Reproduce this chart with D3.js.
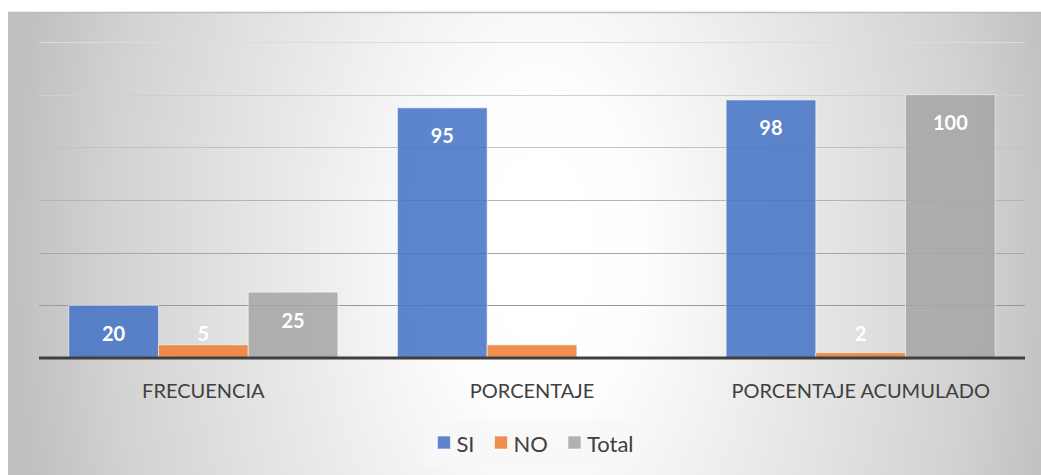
<!DOCTYPE html>
<html>
<head>
<meta charset="utf-8">
<script src="https://cdn.jsdelivr.net/npm/d3@7/dist/d3.min.js"></script>
<style>
  html, body { margin: 0; padding: 0; background: #ffffff; }
  svg { display: block; }
  text { font-family: "Lato", "Open Sans", sans-serif; }
</style>
</head>
<body>
<svg id="chart" width="1041" height="475"></svg>
<script>
const categories = ["FRECUENCIA", "PORCENTAJE", "PORCENTAJE ACUMULADO"];
const seriesNames = ["SI", "NO", "Total"];
const siValues = [20, 95, 98];
const noValues = [5, 5, 2];
const totalValues = [25, null, 100];
const yTicks = [0, 20, 40, 60, 80, 100, 120];

const colors = { "SI": "#4472C4", "NO": "#ED7D31", "Total": "#A5A5A5" };
const seriesValues = { "SI": siValues, "NO": noValues, "Total": totalValues };

const W = 1041, H = 475;
const plot = { left: 39, right: 1025, top: 42, bottom: 358 };

const svg = d3.select("#chart");
const defs = svg.append("defs");

// Background radial gradient
const grad = defs.append("radialGradient")
  .attr("id", "bg")
  .attr("gradientUnits", "userSpaceOnUse")
  .attr("cx", 0).attr("cy", 0).attr("r", 1)
  .attr("gradientTransform", "translate(540,250) scale(525,900)");
[[0, "#ffffff"], [0.18, "#fefefe"], [0.5, "#e8e8e8"], [0.82, "#d2d2d2"], [1, "#c0c0c0"]]
  .forEach(([o, c]) => grad.append("stop").attr("offset", o).attr("stop-color", c));

svg.append("rect").attr("x", 8).attr("y", 12).attr("width", W - 8).attr("height", H - 12)
  .attr("fill", "url(#bg)");
svg.append("line").attr("x1", 8).attr("x2", W).attr("y1", 12.5).attr("y2", 12.5)
  .attr("stroke", "#bdbdbd").attr("stroke-width", 1.5);

const y = d3.scaleLinear().domain([0, 120]).range([plot.bottom, plot.top]);
const x0 = d3.scaleBand().domain(categories).range([plot.left, plot.right]).paddingInner(0).paddingOuter(0);
const x1 = d3.scaleBand().domain(seriesNames).range([0, x0.bandwidth()]).paddingInner(0).paddingOuter(0.332);

// Gridlines
const gridColor = d3.scaleLinear().domain([20, 120]).range(["#9a9a9a", "#dcdcdc"]);
svg.append("g").selectAll("line").data(yTicks.filter(t => t > 0)).join("line")
  .attr("x1", plot.left).attr("x2", plot.right)
  .attr("y1", d => Math.round(y(d)) + 0.5).attr("y2", d => Math.round(y(d)) + 0.5)
  .attr("stroke", d => gridColor(d)).attr("stroke-width", 1);

// Bars
const rows = [];
categories.forEach((c, i) => seriesNames.forEach(s => {
  const v = seriesValues[s][i];
  if (v !== null && v !== undefined) rows.push({ cat: c, series: s, value: v });
}));

svg.append("g").selectAll("rect").data(rows).join("rect")
  .attr("x", d => x0(d.cat) + x1(d.series))
  .attr("y", d => y(d.value))
  .attr("width", x1.bandwidth())
  .attr("height", d => y(0) - y(d.value))
  .attr("fill", d => colors[d.series])
  .attr("fill-opacity", 0.86)
  .attr("stroke", "rgba(255,255,255,0.55)")
  .attr("stroke-width", 1);

// Data labels
svg.append("g").selectAll("text").data(rows).join("text")
  .attr("x", d => x0(d.cat) + x1(d.series) + x1.bandwidth() / 2)
  .attr("y", d => Math.min(y(d.value) + 27.5, y(0) - 25))
  .attr("text-anchor", "middle")
  .attr("dominant-baseline", "central")
  .attr("fill", "#ffffff")
  .attr("font-weight", "bold")
  .attr("font-size", 20)
  .text(d => d.value);

// Baseline axis
svg.append("line").attr("x1", plot.left).attr("x2", plot.right)
  .attr("y1", y(0)).attr("y2", y(0))
  .attr("stroke", "#3f3f3f").attr("stroke-width", 3);

// Category labels
svg.append("g").selectAll("text").data(categories).join("text")
  .attr("x", d => x0(d) + x0.bandwidth() / 2)
  .attr("y", 390)
  .attr("text-anchor", "middle")
  .attr("dominant-baseline", "central")
  .attr("fill", "#404040")
  .attr("font-size", 20)
  .text(d => d);

// Legend
svg.append("rect").attr("x", 425).attr("y", 420).attr("width", 213).attr("height", 46)
  .attr("fill", "#f7f7f7").attr("fill-opacity", 0.8);
const lg = svg.append("g");
let lx = 0;
const items = [];
seriesNames.forEach(s => {
  const g = lg.append("g");
  g.append("rect").attr("x", 0).attr("y", 436).attr("width", 13).attr("height", 13)
    .attr("fill", colors[s]).attr("fill-opacity", 0.86)
    .attr("stroke", "rgba(255,255,255,0.6)").attr("stroke-width", 1);
  const t = g.append("text").attr("x", 19).attr("y", 443).attr("dominant-baseline", "central")
    .attr("fill", "#404040").attr("font-size", 22).text(s);
  const w = 19 + t.node().getComputedTextLength();
  items.push({ g, w });
});
const gap = 20;
const totalW = d3.sum(items, d => d.w) + gap * (items.length - 1);
lx = 535.5 - totalW / 2;
items.forEach(it => { it.g.attr("transform", `translate(${lx},0)`); lx += it.w + gap; });
</script>
</body>
</html>
